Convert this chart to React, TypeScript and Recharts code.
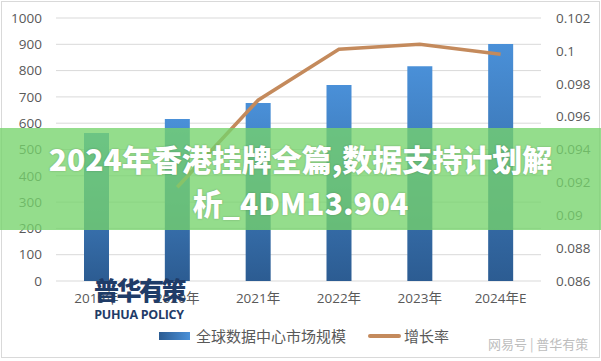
import { Bar, CartesianGrid, ComposedChart, Line, XAxis, YAxis } from "recharts";

const years = ["2019年", "2020年", "2021年", "2022年", "2023年", "2024年E"];
const marketSize = [563, 616, 677, 745, 817, 901];
const growthRate = [null, 0.0917, 0.097, 0.1001, 0.1004, 0.0998];
const leftTicks = [0, 100, 200, 300, 400, 500, 600, 700, 800, 900, 1000];
const rightTicks = [0.086, 0.088, 0.09, 0.092, 0.094, 0.096, 0.098, 0.1, 0.102];
const seriesNames = ["全球数据中心市场规模", "增长率"];
const bannerLines = ["2024年香港挂牌全篇,数据支持计划解", "析_4DM13.904"];

const data = years.map((year, i) => ({
  year,
  size: marketSize[i],
  rate: growthRate[i],
}));

const tickStyle = { fill: "#595959", fontSize: 13.5, fontFamily: "'Open Sans', 'Noto Sans CJK SC', sans-serif" };
const fmtRate = (v: number) => String(Number(v.toFixed(3)));

export default function App() {
  return (
    <div
      style={{
        position: "absolute",
        left: 0,
        top: 0,
        width: 601,
        height: 361,
        background: "#fff",
        fontFamily: "'Noto Sans CJK SC', sans-serif",
        overflow: "hidden",
      }}
    >
      <div
        style={{
          position: "absolute",
          left: 1,
          top: 1,
          width: 597,
          height: 355,
          border: "1px solid #d9d9d9",
        }}
      />
      <ComposedChart
        width={601}
        height={361}
        data={data}
        margin={{ top: 18, right: 0, bottom: 50, left: 0 }}
      >
        <defs>
          <linearGradient id="barFill" x1="0" y1="0" x2="0" y2="1">
            <stop offset="0%" stopColor="#4a90d8" />
            <stop offset="100%" stopColor="#2c5c92" />
          </linearGradient>
        </defs>
        <CartesianGrid vertical={false} stroke="#d9d9d9" yAxisId="left" />
        <XAxis
          dataKey="year"
          axisLine={false}
          tickLine={false}
          tickSize={0}
          tickMargin={12}
          height={30}
          tick={tickStyle}
        />
        <YAxis
          yAxisId="left"
          domain={[0, 1000]}
          ticks={leftTicks}
          axisLine={false}
          tickLine={false}
          tickSize={0}
          tickMargin={14}
          width={56}
          tick={tickStyle}
        />
        <YAxis
          yAxisId="right"
          orientation="right"
          domain={[0.086, 0.102]}
          ticks={rightTicks}
          tickFormatter={fmtRate}
          axisLine={false}
          tickLine={false}
          tickSize={0}
          tickMargin={15}
          width={60}
          tick={tickStyle}
        />
        <Bar
          yAxisId="left"
          dataKey="size"
          name={seriesNames[0]}
          fill="url(#barFill)"
          barSize={25}
          isAnimationActive={false}
        />
        <Line
          yAxisId="right"
          dataKey="rate"
          name={seriesNames[1]}
          type="linear"
          stroke="#c48a5c"
          strokeWidth={3.5}
          dot={false}
          isAnimationActive={false}
        />
      </ComposedChart>

      {/* legend */}
      <div
        style={{
          position: "absolute",
          top: 325,
          left: 159,
          display: "flex",
          alignItems: "center",
          fontSize: 15,
          color: "#595959",
          whiteSpace: "nowrap",
        }}
      >
        <span
          style={{
            display: "inline-block",
            width: 31,
            height: 8,
            background: "linear-gradient(90deg, #2c5c92, #4a90d8)",
            marginRight: 6,
          }}
        />
        <span>{seriesNames[0]}</span>
        <span
          style={{
            display: "inline-block",
            width: 33,
            height: 4,
            borderRadius: 2,
            background: "#c48a5c",
            marginLeft: 22,
            marginRight: 3,
          }}
        />
        <span>{seriesNames[1]}</span>
      </div>

      {/* logo */}
      <div
        style={{
          position: "absolute",
          left: 89,
          top: 277,
          width: 100,
          textAlign: "center",
          color: "#1f3c68",
          fontWeight: 900,
          lineHeight: 1,
          whiteSpace: "nowrap",
        }}
      >
        <div style={{ fontSize: 25, letterSpacing: -2.5 }}>普华有策</div>
        <div
          style={{
            fontSize: 12.5,
            marginTop: 7,
            fontFamily: "'Open Sans', sans-serif",
            fontWeight: 700,
            letterSpacing: -0.3,
          }}
        >
          PUHUA POLICY
        </div>
      </div>

      {/* watermark */}
      <div
        style={{
          position: "absolute",
          left: 488,
          top: 334,
          fontSize: 13,
          color: "#bdbdbd",
          whiteSpace: "nowrap",
        }}
      >
        网易号 | 普华有策
      </div>

      {/* banner */}
      <div
        style={{
          position: "absolute",
          left: 0,
          top: 128,
          width: 601,
          height: 102,
          background: "rgba(118, 212, 108, 0.78)",
          color: "#fff",
          fontWeight: 900,
          fontSize: 30,
          lineHeight: "44px",
          textAlign: "center",
          paddingTop: 8,
          boxSizing: "border-box",
          textShadow: "0 0 2px rgba(0,0,0,0.25)",
        }}
      >
        {bannerLines.map((t) => (
          <div key={t} style={{ whiteSpace: "nowrap" }}>
            {t}
          </div>
        ))}
      </div>
    </div>
  );
}
